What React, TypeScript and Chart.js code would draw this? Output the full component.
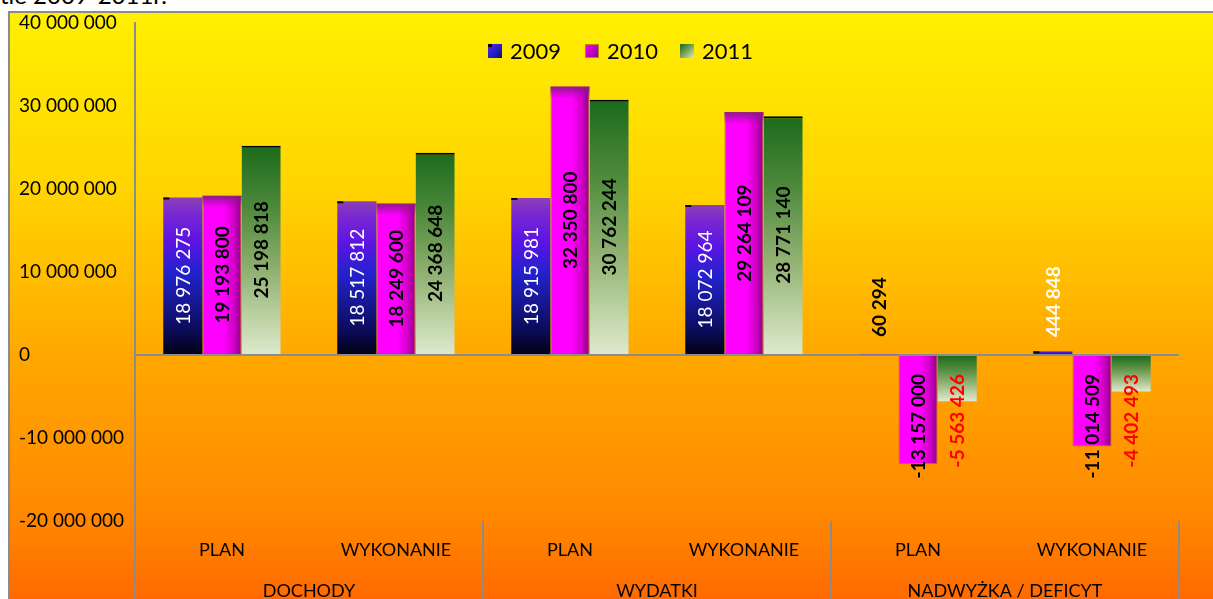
import React, { useEffect, useRef } from "react";
import { Chart, registerables } from "chart.js";

Chart.register(...registerables);

const subCategories = ["PLAN", "WYKONANIE", "PLAN", "WYKONANIE", "PLAN", "WYKONANIE"];
const groupLabels = ["DOCHODY", "WYDATKI", "NADWYŻKA / DEFICYT"];
const seriesNames = ["2009", "2010", "2011"];
const values2009 = [18976275, 18517812, 18915981, 18072964, 60294, 444848];
const values2010 = [19193800, 18249600, 32350800, 29264109, -13157000, -11014509];
const values2011 = [25198818, 24368648, 30762244, 28771140, -5563426, -4402493];
const yTicks = [-20000000, -10000000, 0, 10000000, 20000000, 30000000, 40000000];

const FONT = "Lato, 'Liberation Sans', sans-serif";

const fmt = (v: number) => {
  const s = Math.abs(Math.round(v)).toString().replace(/\B(?=(\d{3})+(?!\d))/g, " ");
  return (v < 0 ? "-" : "") + s;
};

const stops2009: [number, string][] = [
  [0, "#8C40B4"],
  [0.1, "#7A28D2"],
  [0.28, "#5A14E4"],
  [0.48, "#2222CC"],
  [0.68, "#16168E"],
  [0.86, "#0A0A52"],
  [1, "#000012"],
];
const stops2010: [number, string][] = [
  [0, "#FF00FF"],
  [0.55, "#FF00FF"],
  [0.8, "#D200C8"],
  [1, "#8A0088"],
];
const stops2011: [number, string][] = [
  [0, "#1B6A1B"],
  [0.3, "#4F8A3C"],
  [0.6, "#90B172"],
  [0.85, "#C2D6AA"],
  [1, "#DEE9CE"],
];

function barFill(context: any, stops: [number, string][], horizontal: boolean, offsetIndex: number) {
  const chart = context.chart;
  const yScale = chart.scales.y;
  const xScale = chart.scales.x;
  if (!chart.chartArea || !yScale || !xScale) return stops[Math.floor(stops.length / 2)][1];
  const v = context.raw as number;
  const y1 = yScale.getPixelForValue(v);
  const y0 = yScale.getPixelForValue(0);
  const top = Math.min(y1, y0);
  const bottom = Math.max(y1, y0);
  let g;
  if (horizontal) {
    const catW = (xScale.right - xScale.left) / subCategories.length;
    const bw = (catW * 0.675) / 3;
    const cx = xScale.getPixelForValue(context.dataIndex) + offsetIndex * bw;
    g = chart.ctx.createLinearGradient(cx - bw / 2, 0, cx + bw / 2, 0);
  } else {
    g = chart.ctx.createLinearGradient(0, top, 0, Math.max(bottom, top + 1));
  }
  stops.forEach(([o, c]) => g.addColorStop(o, c));
  return g;
}

const labelColors = [
  ["#FFFFFF", "#FFFFFF", "#FFFFFF", "#FFFFFF", "#000000", "#FFFFFF"],
  ["#000000", "#000000", "#000000", "#000000", "#000000", "#000000"],
  ["#000000", "#000000", "#000000", "#000000", "#FF0000", "#FF0000"],
];
const labelBold = [
  [false, false, false, false, true, true],
  [true, true, true, true, true, true],
  [true, true, true, true, true, true],
];

function legendSwatch(ctx: CanvasRenderingContext2D, i: number, x: number, y: number, s: number) {
  const g = ctx.createLinearGradient(x, y, x + s, y + s);
  if (i === 0) {
    g.addColorStop(0, "#6A20E0");
    g.addColorStop(0.5, "#2222CC");
    g.addColorStop(1, "#10106A");
  } else if (i === 1) {
    g.addColorStop(0, "#FF00FF");
    g.addColorStop(1, "#8A0088");
  } else {
    stops2011.forEach(([o, c]) => g.addColorStop(o, c));
  }
  ctx.fillStyle = g;
  ctx.fillRect(x, y, s, s);
  if (i === 0) {
    ctx.fillStyle = "#000";
    ctx.fillRect(x, y, 4, 3);
  }
  if (i === 1) {
    ctx.strokeStyle = "#B8860B";
    ctx.lineWidth = 1;
    ctx.strokeRect(x + 0.5, y + 0.5, s - 1, s - 1);
  }
}

const customPlugin = {
  id: "customDecor",
  afterDatasetsDraw(chart: any) {
    const ctx: CanvasRenderingContext2D = chart.ctx;
    ctx.save();
    // 2010 top shading
    const m1 = chart.getDatasetMeta(1);
    m1.data.forEach((bar: any, i: number) => {
      if (values2010[i] > 0) {
        const p = bar.getProps(["x", "y", "base", "width"], true);
        const g = ctx.createLinearGradient(0, p.y, 0, p.y + 12);
        g.addColorStop(0, "rgba(140,20,140,0.95)");
        g.addColorStop(1, "rgba(140,20,140,0)");
        ctx.fillStyle = g;
        ctx.fillRect(p.x - p.width / 2, p.y, p.width, 12);
      }
    });
    // 2009 corner marks
    const m0 = chart.getDatasetMeta(0);
    m0.data.forEach((bar: any) => {
      const p = bar.getProps(["x", "y", "base", "width"], true);
      if (Math.abs(p.base - p.y) < 2) return;
      ctx.fillStyle = "#000";
      ctx.fillRect(p.x - p.width / 2, Math.min(p.y, p.base), 6, 2);
    });
    // data labels
    const all = [values2009, values2010, values2011];
    all.forEach((vals, di) => {
      const meta = chart.getDatasetMeta(di);
      meta.data.forEach((bar: any, i: number) => {
        const p = bar.getProps(["x", "y", "base"], true);
        const v = vals[i];
        const text = fmt(v);
        ctx.font = (labelBold[di][i] ? "bold " : "") + "19px " + FONT;
        const w = ctx.measureText(text).width;
        const h = Math.abs(p.base - p.y);
        let cy;
        if (v >= 0) {
          cy = w + 4 <= h ? (p.y + p.base) / 2 : p.base - 17 - w / 2;
        } else {
          cy = p.base + 18 + w / 2;
        }
        ctx.save();
        ctx.translate(p.x, cy);
        ctx.rotate(-Math.PI / 2);
        ctx.textAlign = "center";
        ctx.textBaseline = "middle";
        ctx.fillStyle = labelColors[di][i];
        ctx.fillText(text, 0, 1);
        ctx.restore();
      });
    });
    ctx.restore();
  },
  afterDraw(chart: any) {
    const ctx: CanvasRenderingContext2D = chart.ctx;
    const xs = chart.scales.x;
    const area = chart.chartArea;
    const H = chart.height;
    ctx.save();
    // category labels
    ctx.fillStyle = "#000";
    ctx.textAlign = "center";
    ctx.textBaseline = "middle";
    ctx.font = "18px " + FONT;
    subCategories.forEach((lab, i) => {
      ctx.fillText(lab, xs.getPixelForValue(i), area.bottom + 29);
    });
    groupLabels.forEach((lab, gi) => {
      const cx = (xs.getPixelForValue(gi * 2) + xs.getPixelForValue(gi * 2 + 1)) / 2;
      ctx.fillText(lab, cx, area.bottom + 70);
    });
    // dividers
    ctx.strokeStyle = "#8c8c8c";
    ctx.lineWidth = 2;
    const half = (xs.getPixelForValue(1) - xs.getPixelForValue(0)) / 2;
    ctx.beginPath();
    ctx.moveTo(area.left, area.bottom);
    ctx.lineTo(area.left, H);
    groupLabels.forEach((_, gi) => {
      const xx = xs.getPixelForValue(gi * 2 + 1) + half;
      ctx.moveTo(xx, area.bottom);
      ctx.lineTo(xx, H);
    });
    ctx.stroke();
    // legend
    const legendX = [488, 585, 680];
    ctx.font = "22px " + FONT;
    ctx.textAlign = "left";
    seriesNames.forEach((name, i) => {
      legendSwatch(ctx, i, legendX[i], 44, 14);
      ctx.fillStyle = "#000";
      ctx.fillText(name, legendX[i] + 22, 52);
    });
    ctx.restore();
  },
};

export default function App() {
  const canvasRef = useRef<HTMLCanvasElement | null>(null);

  useEffect(() => {
    if (!canvasRef.current) return;
    const chart = new Chart(canvasRef.current, {
      type: "bar",
      data: {
        labels: subCategories,
        datasets: [
          {
            label: seriesNames[0],
            data: values2009,
            backgroundColor: (c: any) => barFill(c, stops2009, false, -1),
            borderWidth: 0,
          },
          {
            label: seriesNames[1],
            data: values2010,
            backgroundColor: (c: any) => barFill(c, stops2010, true, 0),
            borderColor: "rgba(200,100,40,0.9)",
            borderWidth: 1,
          },
          {
            label: seriesNames[2],
            data: values2011,
            backgroundColor: (c: any) => barFill(c, stops2011, false, 1),
            borderColor: "#000",
            borderWidth: { top: 2, left: 0, right: 0, bottom: 0 },
          },
        ],
      },
      options: {
        responsive: false,
        maintainAspectRatio: false,
        animation: false,
        datasets: {
          bar: { categoryPercentage: 0.675, barPercentage: 1 },
        },
        layout: { padding: { left: 19, right: 34, top: 23, bottom: 78 } },
        plugins: {
          legend: { display: false },
          tooltip: { enabled: false },
        },
        scales: {
          x: {
            type: "category",
            display: false,
            offset: true,
          },
          y: {
            min: yTicks[0],
            max: yTicks[yTicks.length - 1],
            afterFit: (scale: any) => {
              scale.width = 116;
            },
            ticks: {
              stepSize: yTicks[1] - yTicks[0],
              callback: (v: any) => fmt(Number(v)),
              color: "#000",
              crossAlign: "far",
              padding: 0,
              font: { family: FONT, size: 19 },
            },
            border: { display: true, color: "#8c8c8c", width: 2 },
            grid: {
              display: true,
              drawTicks: false,
              lineWidth: 2,
              color: (c: any) => (c.tick && c.tick.value === 0 ? "#8c8c8c" : "rgba(0,0,0,0)"),
            },
          },
        },
      },
      plugins: [customPlugin],
    } as any);
    return () => chart.destroy();
  }, []);

  return (
    <div
      style={{
        position: "fixed",
        left: 0,
        top: 0,
        width: 1213,
        height: 599,
        overflow: "hidden",
        background: "#fff",
      }}
    >
      <div
        style={{
          position: "absolute",
          left: 0,
          top: -17,
          fontFamily: FONT,
          fontSize: 24,
          lineHeight: "24px",
          color: "#000",
          whiteSpace: "nowrap",
        }}
      >
        tle 2009-2011r.
      </div>
      <div
        style={{
          position: "absolute",
          left: 8,
          top: 11,
          width: 1300,
          height: 590,
          border: "2px solid #8c8c8c",
          background:
            "linear-gradient(to bottom, #FFF000 0%, #FFD400 30%, #FFA800 58%, #FF8700 86%, #FF6800 100%)",
        }}
      />
      <canvas
        ref={canvasRef}
        width={1213}
        height={599}
        style={{ position: "absolute", left: 0, top: 0, width: 1213, height: 599, display: "block" }}
      />
    </div>
  );
}
